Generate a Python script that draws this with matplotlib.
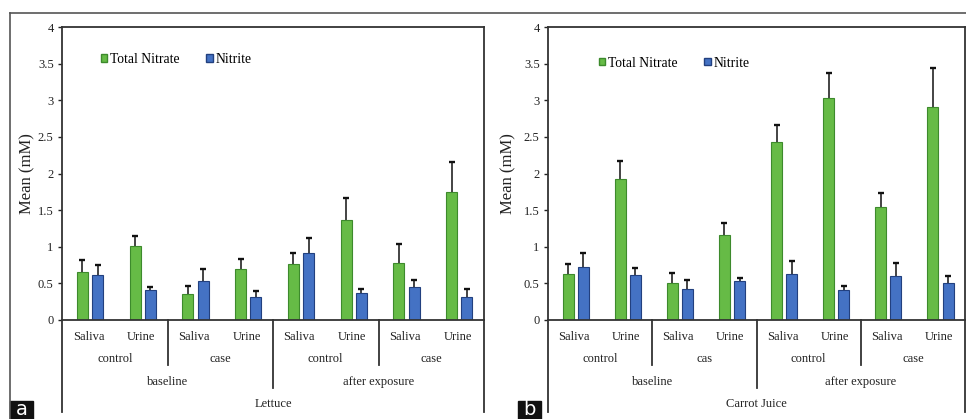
import matplotlib
matplotlib.use('Agg')
import matplotlib.pyplot as plt
from matplotlib.patches import Patch, Rectangle
from matplotlib.lines import Line2D
import numpy as np

plt.rcParams['font.family'] = 'Liberation Serif'

# data
sample = ['Saliva', 'Urine'] * 4
group_a = ['control', 'case', 'control', 'case']
group_b = ['control', 'cas', 'control', 'case']
phase = ['baseline', 'after exposure']

# Lettuce
lett_nitrate = [0.65, 1.01, 0.36, 0.70, 0.77, 1.37, 0.78, 1.75]
lett_nitrate_err = [0.17, 0.13, 0.10, 0.13, 0.15, 0.29, 0.26, 0.41]
lett_nitrite = [0.61, 0.41, 0.53, 0.32, 0.91, 0.37, 0.45, 0.32]
lett_nitrite_err = [0.14, 0.04, 0.16, 0.08, 0.21, 0.06, 0.10, 0.11]

# Carrot juice
carr_nitrate = [0.63, 1.93, 0.50, 1.16, 2.43, 3.03, 1.54, 2.91]
carr_nitrate_err = [0.14, 0.24, 0.14, 0.17, 0.23, 0.34, 0.20, 0.53]
carr_nitrite = [0.73, 0.62, 0.42, 0.53, 0.63, 0.41, 0.60, 0.50]
carr_nitrite_err = [0.18, 0.09, 0.13, 0.04, 0.17, 0.06, 0.18, 0.10]

green, green_edge = '#66bb46', '#3d8a2c'
blue, blue_edge = '#4472c4', '#22407f'

W, H = 966, 419
fig = plt.figure(figsize=(W / 100, H / 100), dpi=100)


def upper_err(ax, x, vals, errs):
    vals = np.array(vals)
    top = vals + np.array(errs)
    ax.vlines(x, vals, top, color='#111111', lw=1.1, zorder=1)
    ax.plot(x, top, ls='none', marker='_', ms=5, mew=1.7, color='#111111', zorder=1)


def panel(rect, nitrate, n_err, nitrite, i_err, groups, food, leg_xy, ylab_x):
    ax = fig.add_axes(rect)
    x = np.arange(8)
    ax.bar(x - 0.115, nitrate, 0.21, color=green, edgecolor=green_edge, linewidth=0.8,
           zorder=2, label='Total Nitrate')
    ax.bar(x + 0.175, nitrite, 0.21, color=blue, edgecolor=blue_edge, linewidth=0.8,
           zorder=2, label='Nitrite')
    upper_err(ax, x - 0.115, nitrate, n_err)
    upper_err(ax, x + 0.175, nitrite, i_err)
    ax.set_xlim(-0.5, 7.5)
    ax.set_ylim(0, 4)
    ax.set_yticks([0, 0.5, 1, 1.5, 2, 2.5, 3, 3.5, 4])
    ax.set_yticklabels(['0', '0.5', '1', '1.5', '2', '2.5', '3', '3.5', '4'])
    ax.tick_params(axis='y', direction='out', length=3, width=1, pad=3,
                   labelsize=9, colors='#222222')
    ax.set_xticks([])
    for s in ax.spines.values():
        s.set_color('#333333')
        s.set_linewidth(1.3)
        s.set_zorder(3)
    ax.set_ylabel('Mean (mM)', fontsize=12, color='#222222')
    ax.yaxis.set_label_coords(ylab_x, 0.5)

    tr = ax.get_xaxis_transform()
    lk = dict(color='#333333', lw=1.3, transform=tr, clip_on=False)
    for xi in [1.5, 5.5]:
        ax.add_line(Line2D([xi, xi], [0, -0.154], **lk))
    ax.add_line(Line2D([3.5, 3.5], [0, -0.232], **lk))
    for xi in [-0.5, 7.5]:
        ax.add_line(Line2D([xi, xi], [0, -0.314], **lk))

    tk = dict(transform=tr, ha='center', va='center', fontsize=9, color='#222222')
    for i, s in enumerate(sample):
        ax.text(i, -0.058, s, **tk)
    for i, g in enumerate(groups):
        ax.text(2 * i + 0.5, -0.133, g, **tk)
    for i, p in enumerate(phase):
        ax.text(4 * i + 1.5, -0.2116, p, **tk)
    ax.text(3.5, -0.287, food, **tk)

    ax.legend(handles=[Patch(facecolor=green, edgecolor=green_edge, label='Total Nitrate'),
                       Patch(facecolor=blue, edgecolor=blue_edge, label='Nitrite')],
              loc='center left', bbox_to_anchor=leg_xy, ncol=2, frameon=False,
              fontsize=9.8, handlelength=0.45, handleheight=0.45, handletextpad=0.2,
              columnspacing=2.0, borderpad=0, borderaxespad=0)
    return ax


panel([62 / W, 1 - 320 / H, 422 / W, 293 / H], lett_nitrate, lett_nitrate_err,
      lett_nitrite, lett_nitrite_err, group_a, 'Lettuce', (0.092, 0.89), -0.064)
panel([548 / W, 1 - 320 / H, 417 / W, 293 / H], carr_nitrate, carr_nitrate_err,
      carr_nitrite, carr_nitrite_err, group_b, 'Carrot Juice', (0.122, 0.877), -0.077)

# outer frame (top and left)
fig.add_artist(Line2D([10 / W, 1], [1 - 13 / H, 1 - 13 / H], color='#555555', lw=1.2,
                      transform=fig.transFigure))
fig.add_artist(Line2D([10 / W, 10 / W], [1 - 13 / H, 0], color='#555555', lw=1.2,
                      transform=fig.transFigure))

# panel letters
for x0, lab in [(10, 'a'), (518, 'b')]:
    fig.add_artist(Rectangle((x0 / W, 0), 23 / W, 18 / H, color='#111111',
                             transform=fig.transFigure))
    fig.text((x0 + 11.5) / W, 0.5 / H, lab, color='white', ha='center', va='bottom',
             fontsize=14, family='DejaVu Sans')

fig.savefig('out.png', dpi=100)
